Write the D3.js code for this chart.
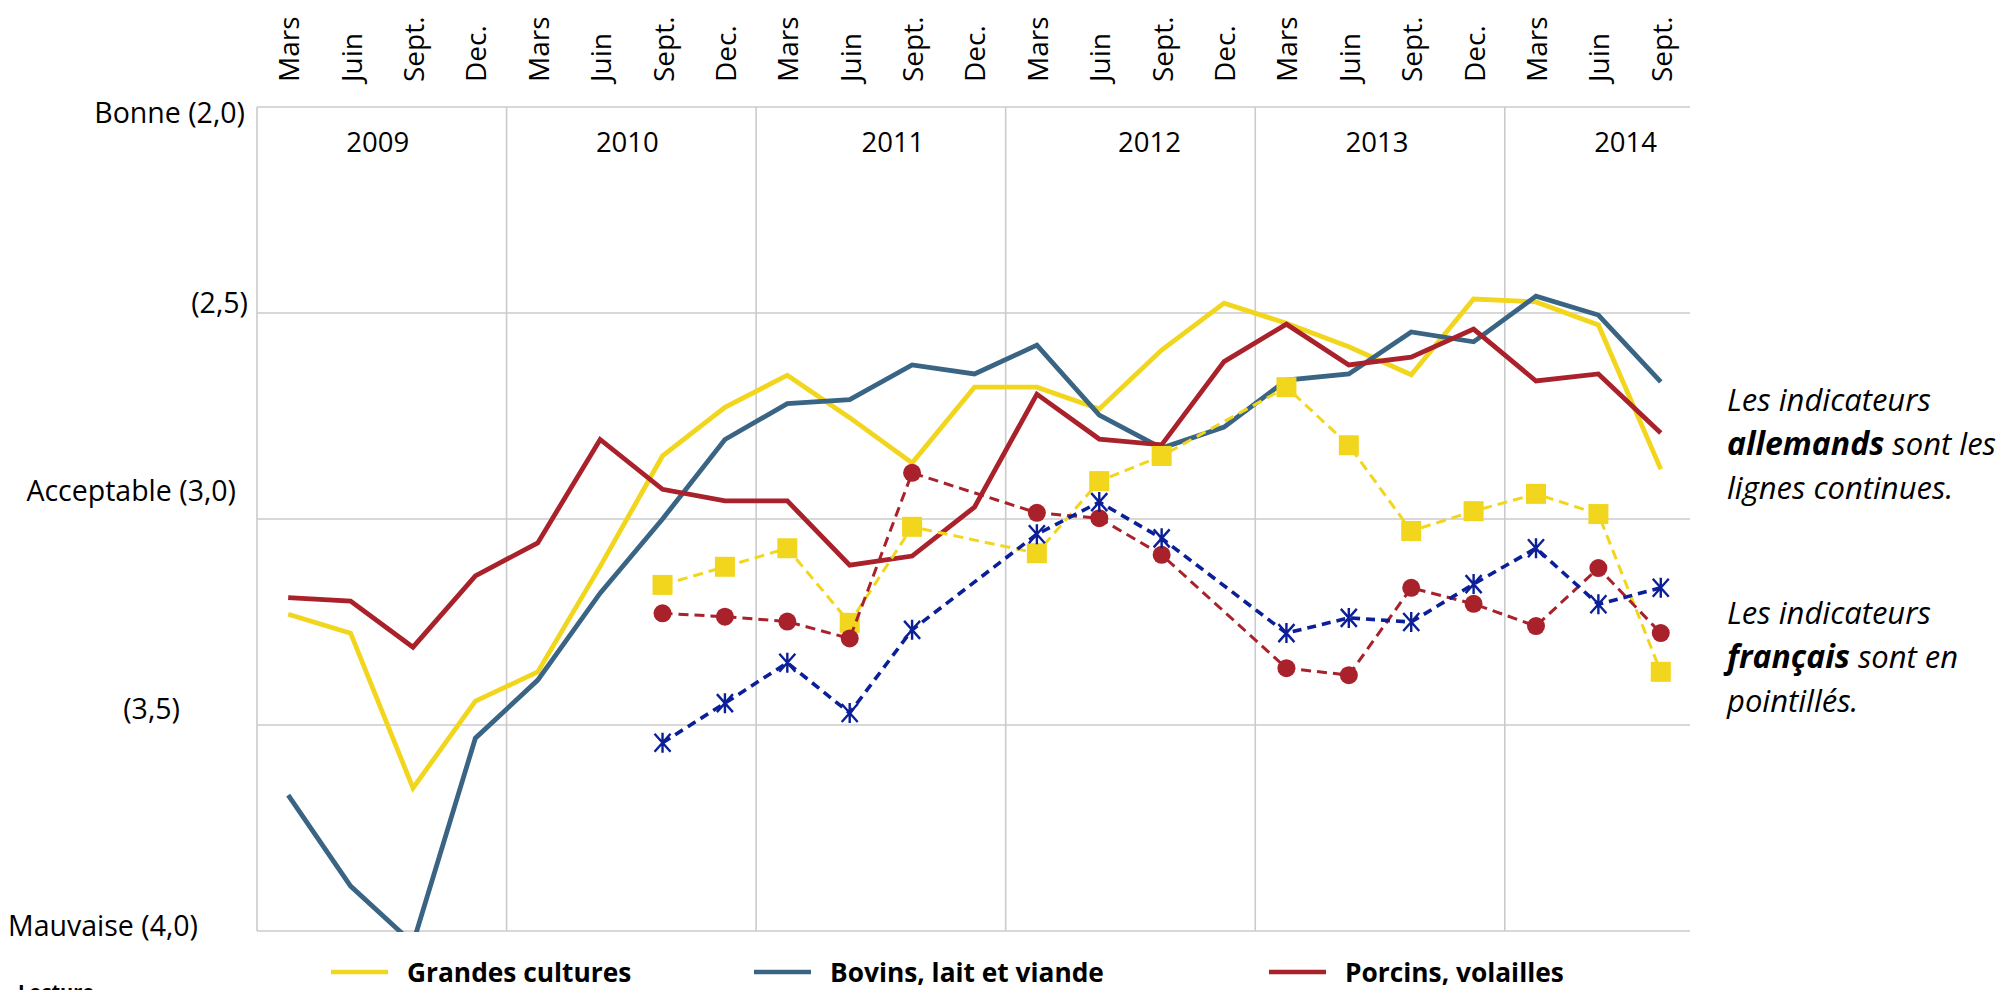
<!DOCTYPE html>
<html>
<head>
<meta charset="utf-8">
<script src="https://cdn.jsdelivr.net/npm/d3@7"></script>
<style>
  html, body { margin: 0; padding: 0; background: #fff; }
  svg { display: block; font-family: "Open Sans", "Noto Sans", sans-serif; }
</style>
</head>
<body>
<script>
// ---------- DATA ----------
const periods = [
  "Mars 2009","Juin 2009","Sept. 2009","Dec. 2009",
  "Mars 2010","Juin 2010","Sept. 2010","Dec. 2010",
  "Mars 2011","Juin 2011","Sept. 2011","Dec. 2011",
  "Mars 2012","Juin 2012","Sept. 2012","Dec. 2012",
  "Mars 2013","Juin 2013","Sept. 2013","Dec. 2013",
  "Mars 2014","Juin 2014","Sept. 2014"
];
const quarterLabels = ["Mars","Juin","Sept.","Dec.","Mars","Juin","Sept.","Dec.","Mars","Juin","Sept.","Dec.",
  "Mars","Juin","Sept.","Dec.","Mars","Juin","Sept.","Dec.","Mars","Juin","Sept."];
const years = ["2009","2010","2011","2012","2013","2014"];
const yTickValues = [2.0, 2.5, 3.0, 3.5, 4.0];
const yTickLabels = ["Bonne (2,0)","(2,5)","Acceptable (3,0)","(3,5)","Mauvaise (4,0)"];

// German indicators (solid lines)
const deGrandesCultures = [3.231,3.277,3.653,3.442,3.371,3.115,2.847,2.729,2.651,2.754,2.864,2.680,
  2.680,2.733,2.590,2.476,2.525,2.582,2.650,2.466,2.473,2.529,2.879];
const deBovins = [3.670,3.891,4.030,3.532,3.391,3.180,3.000,2.807,2.720,2.710,2.626,2.648,
  2.578,2.748,2.828,2.777,2.663,2.648,2.546,2.570,2.459,2.505,2.667];
const dePorcins = [3.191,3.199,3.311,3.138,3.058,2.807,2.928,2.956,2.956,3.112,3.090,2.971,
  2.697,2.806,2.820,2.618,2.527,2.626,2.607,2.539,2.665,2.648,2.791];

// French indicators (dashed lines with markers)
const frGrandesCultures = [null,null,null,null,null,null,3.160,3.116,3.071,3.252,3.019,null,
  3.083,2.908,2.847,null,2.680,2.821,3.029,2.981,2.939,2.988,3.371];
const frPorcins = [null,null,null,null,null,null,3.229,3.237,3.249,3.290,2.888,null,
  2.985,2.998,3.087,null,3.362,3.379,3.167,3.206,3.260,3.119,3.277];
const frBovins = [null,null,null,null,null,null,3.543,3.447,3.349,3.471,3.269,null,
  3.037,2.959,3.047,null,3.277,3.240,3.250,3.158,3.071,3.207,3.167];

const legendLabels = ["Grandes cultures","Bovins, lait et viande","Porcins, volailles"];
const annotation1 = [["Les indicateurs", ""], ["allemands", " sont les"], ["lignes continues.", ""]];
const annotation2 = [["Les indicateurs", ""], ["français", " sont en"], ["pointillés.", ""]];

// ---------- LAYOUT ----------
const W = 2015, H = 990;
const plot = { left: 257, right: 1690, top: 107, bottom: 931 };
const C = { yellow: "#F2D61E", steel: "#3A6483", red: "#A9212A", navy: "#0B1F98", grid: "#CBCBCB" };
// manual nudges of the axis text boxes (as in the original)
const tickNudge = [{dx:-12, dy:5},{dx:-9, dy:-11},{dx:-21, dy:-29},{dx:-77, dy:-17},{dx:-59, dy:-6}];
const yearNudge = [-4,-4,12,19,-3,-4];

const svg = d3.select("body").append("svg").attr("width", W).attr("height", H);

const x = d3.scaleBand().domain(periods).range([plot.left, plot.left + 23 * 62.39]);
const y = d3.scaleLinear().domain([2, 4]).range([plot.top, plot.bottom]);
const cx = p => x(p) + x.bandwidth() / 2;

// grid: horizontal
const g = svg.append("g");
g.selectAll("line.h").data(yTickValues).join("line")
  .attr("x1", plot.left).attr("x2", plot.right)
  .attr("y1", d => y(d)).attr("y2", d => y(d))
  .attr("stroke", C.grid).attr("stroke-width", 1.6);
// grid: vertical year separators + left axis
const yearStarts = years.map((yr, i) => periods[i * 4]);
g.selectAll("line.v").data(yearStarts).join("line")
  .attr("x1", d => x(d)).attr("x2", d => x(d))
  .attr("y1", plot.top).attr("y2", plot.bottom)
  .attr("stroke", C.grid).attr("stroke-width", 1.6);

// y tick labels
svg.append("g").selectAll("text").data(yTickValues).join("text")
  .attr("x", (d, i) => plot.left + tickNudge[i].dx)
  .attr("y", (d, i) => y(d) + tickNudge[i].dy)
  .attr("text-anchor", "end").attr("dominant-baseline", "central")
  .attr("font-size", 28.5).attr("fill", "#000")
  .text((d, i) => yTickLabels[i]);

// quarter labels (rotated, top)
svg.append("g").selectAll("text").data(periods).join("text")
  .attr("transform", d => `translate(${cx(d) + 11},82) rotate(-90)`)
  .attr("text-anchor", "start")
  .attr("font-size", 28).attr("fill", "#000")
  .text((d, i) => quarterLabels[i]);

// year labels
svg.append("g").selectAll("text").data(years).join("text")
  .attr("x", (d, i) => x(periods[i * 4]) + 2 * x.step() + yearNudge[i])
  .attr("y", 152)
  .attr("text-anchor", "middle")
  .attr("font-size", 27.5).attr("fill", "#000")
  .text(d => d);

// clip (the 2009 Bovins dip runs just past the bottom axis)
svg.append("clipPath").attr("id", "clipB").append("rect")
  .attr("x", plot.left).attr("y", plot.top - 20)
  .attr("width", plot.right - plot.left + 20).attr("height", plot.bottom - plot.top + 21);

const lineGen = d3.line().x(d => cx(d.p)).y(d => y(d.v));
const toPts = arr => periods.map((p, i) => ({ p, v: arr[i] })).filter(d => d.v != null);

const lines = svg.append("g").attr("clip-path", "url(#clipB)");
[[deGrandesCultures, C.yellow], [deBovins, C.steel], [dePorcins, C.red]].forEach(([arr, col]) => {
  lines.append("path").datum(toPts(arr))
    .attr("d", lineGen).attr("fill", "none")
    .attr("stroke", col).attr("stroke-width", 4.8).attr("stroke-linejoin", "miter");
});

// French series
const fr = svg.append("g");
// yellow squares
fr.append("path").datum(toPts(frGrandesCultures)).attr("d", lineGen).attr("fill", "none")
  .attr("stroke", C.yellow).attr("stroke-width", 3).attr("stroke-dasharray", "10,6");
fr.selectAll("rect.sq").data(toPts(frGrandesCultures)).join("rect")
  .attr("x", d => cx(d.p) - 10).attr("y", d => y(d.v) - 10)
  .attr("width", 20).attr("height", 20).attr("fill", C.yellow);
// red circles
fr.append("path").datum(toPts(frPorcins)).attr("d", lineGen).attr("fill", "none")
  .attr("stroke", C.red).attr("stroke-width", 3).attr("stroke-dasharray", "10,6");
fr.selectAll("circle.c").data(toPts(frPorcins)).join("circle")
  .attr("cx", d => cx(d.p)).attr("cy", d => y(d.v)).attr("r", 9).attr("fill", C.red);
// navy stars
fr.append("path").datum(toPts(frBovins)).attr("d", lineGen).attr("fill", "none")
  .attr("stroke", C.navy).attr("stroke-width", 3.6).attr("stroke-dasharray", "9,6");
const star = fr.selectAll("g.st").data(toPts(frBovins)).join("g")
  .attr("transform", d => `translate(${cx(d.p)},${y(d.v)})`);
star.append("path")
  .attr("d", "M-8,-9L8,9M8,-9L-8,9M0,-10L0,10")
  .attr("stroke", C.navy).attr("stroke-width", 2.4).attr("fill", "none");

// legend
const legendCols = [C.yellow, C.steel, C.red];
const legendX = [331, 754, 1269];
const lg = svg.append("g");
legendLabels.forEach((lab, i) => {
  lg.append("line").attr("x1", legendX[i]).attr("x2", legendX[i] + 57)
    .attr("y1", 972).attr("y2", 972).attr("stroke", legendCols[i]).attr("stroke-width", 4.5);
  lg.append("text").attr("x", legendX[i] + 76).attr("y", 982)
    .attr("font-size", 26.3).attr("font-weight", "bold").attr("fill", "#000").text(lab);
});

// annotations
function annot(lines, y0) {
  const t = svg.append("text").attr("x", 1727).attr("y", y0)
    .attr("font-size", 31).attr("font-style", "italic").attr("fill", "#000");
  lines.forEach((ln, i) => {
    const ts = t.append("tspan").attr("x", 1727).attr("y", y0 + i * 44);
    if (i === 1) {
      ts.append("tspan").attr("font-weight", "bold").attr("font-size", 32).text(ln[0]);
      t.append("tspan").attr("font-weight", "normal").text(ln[1]);
    } else {
      ts.text(ln[0]);
    }
  });
}
annot(annotation1, 411);
annot(annotation2, 624);

// cut-off footer text (cut by the bottom edge, as in the original)
svg.append("text").attr("x", 18).attr("y", 999).attr("font-size", 20)
  .attr("font-weight", "bold").attr("fill", "#000").text("Lecture");
</script>
</body>
</html>
